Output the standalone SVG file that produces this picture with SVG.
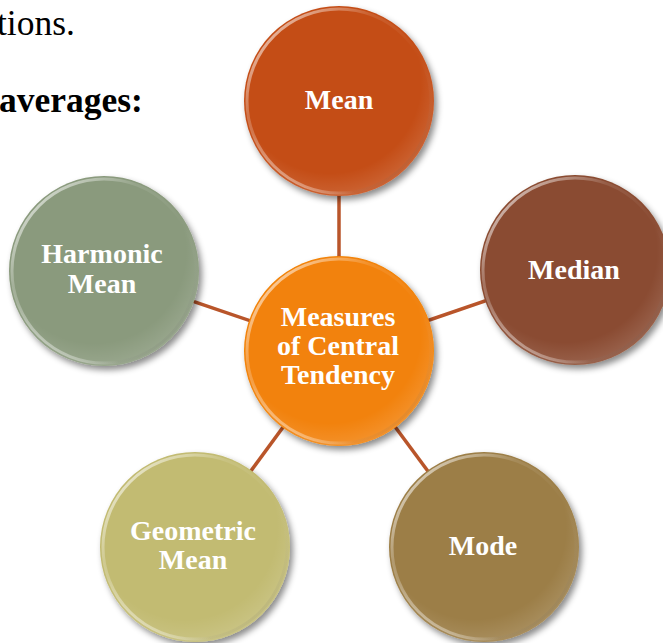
<svg xmlns="http://www.w3.org/2000/svg" width="663" height="643" viewBox="0 0 663 643">
<defs>
<filter id="sh" x="-20%" y="-20%" width="150%" height="150%">
<feDropShadow dx="3" dy="4" stdDeviation="3" flood-color="#000" flood-opacity="0.45"/>
</filter>
<linearGradient id="rim" x1="0" y1="0" x2="1" y2="1">
<stop offset="0" stop-color="#fff" stop-opacity="0.85"/>
<stop offset="0.35" stop-color="#fff" stop-opacity="0.1"/>
<stop offset="0.6" stop-color="#fff" stop-opacity="0"/>
<stop offset="1" stop-color="#000" stop-opacity="0.15"/>
</linearGradient>
<linearGradient id="rim2" x1="0" y1="1" x2="0.5" y2="0.3">
<stop offset="0" stop-color="#fff" stop-opacity="0.9"/>
<stop offset="0.4" stop-color="#fff" stop-opacity="0"/>
</linearGradient>
<radialGradient id="gl" cx="0.45" cy="0.4" r="0.6">
<stop offset="0.8" stop-color="#fff" stop-opacity="0"/>
<stop offset="1" stop-color="#fff" stop-opacity="0.12"/>
</radialGradient>
</defs>
<style>
.t{font-family:"Liberation Serif","Times New Roman",serif;fill:#fff;font-weight:bold;font-size:28px;text-anchor:middle}
.body{font-family:"Liberation Serif","Times New Roman",serif;fill:#000;font-size:35.5px}
.c{filter:url(#sh)}
.r{fill:none;stroke:url(#rim);stroke-width:3}
.r2{fill:none;stroke:url(#rim2);stroke-width:3}
.g{fill:url(#gl)}
.ln{stroke:#B9552A;stroke-width:3.5;fill:none}
</style>
<rect width="663" height="643" fill="#fff"/>
<text class="body" x="-3" y="35">tions.</text>
<text class="body" x="-1" y="112" font-weight="bold">averages:</text>
<g id="connectors">
<line class="ln" x1="339" y1="351" x2="339" y2="101"/>
<line class="ln" x1="339" y1="351" x2="575" y2="270"/>
<line class="ln" x1="339" y1="351" x2="484" y2="547"/>
<line class="ln" x1="339" y1="351" x2="195" y2="547"/>
<line class="ln" x1="339" y1="351" x2="104" y2="271"/>
</g>
<g id="mean">
<circle class="c" cx="339" cy="101" r="95" fill="#C44E18"/>
<circle class="g" cx="339" cy="101" r="95"/>
<circle class="r" cx="339" cy="101" r="92"/>
<circle class="r2" cx="339" cy="101" r="92"/>
<text class="t" x="339" y="109">Mean</text>
</g>
<g id="median">
<circle class="c" cx="575" cy="270" r="95" fill="#8A4C31"/>
<circle class="g" cx="575" cy="270" r="95"/>
<circle class="r" cx="575" cy="270" r="92"/>
<circle class="r2" cx="575" cy="270" r="92"/>
<text class="t" x="574" y="279">Median</text>
</g>
<g id="mode">
<circle class="c" cx="484" cy="547" r="95" fill="#9C7E46"/>
<circle class="g" cx="484" cy="547" r="95"/>
<circle class="r" cx="484" cy="547" r="92"/>
<circle class="r2" cx="484" cy="547" r="92"/>
<text class="t" x="483" y="555">Mode</text>
</g>
<g id="geometric-mean">
<circle class="c" cx="195" cy="547" r="95" fill="#C2BB72"/>
<circle class="g" cx="195" cy="547" r="95"/>
<circle class="r" cx="195" cy="547" r="92"/>
<circle class="r2" cx="195" cy="547" r="92"/>
<text class="t" x="193" y="540">Geometric</text>
<text class="t" x="193" y="569">Mean</text>
</g>
<g id="harmonic-mean">
<circle class="c" cx="104" cy="271" r="95" fill="#8A9A7D"/>
<circle class="g" cx="104" cy="271" r="95"/>
<circle class="r" cx="104" cy="271" r="92"/>
<circle class="r2" cx="104" cy="271" r="92"/>
<text class="t" x="102" y="263">Harmonic</text>
<text class="t" x="102" y="293">Mean</text>
</g>
<g id="central">
<circle class="c" cx="339" cy="351" r="95" fill="#F28207"/>
<circle class="g" cx="339" cy="351" r="95"/>
<circle class="r" cx="339" cy="351" r="92"/>
<circle class="r2" cx="339" cy="351" r="92"/>
<text class="t" x="338" y="326">Measures</text>
<text class="t" x="338" y="355">of Central</text>
<text class="t" x="338" y="384">Tendency</text>
</g>
</svg>
